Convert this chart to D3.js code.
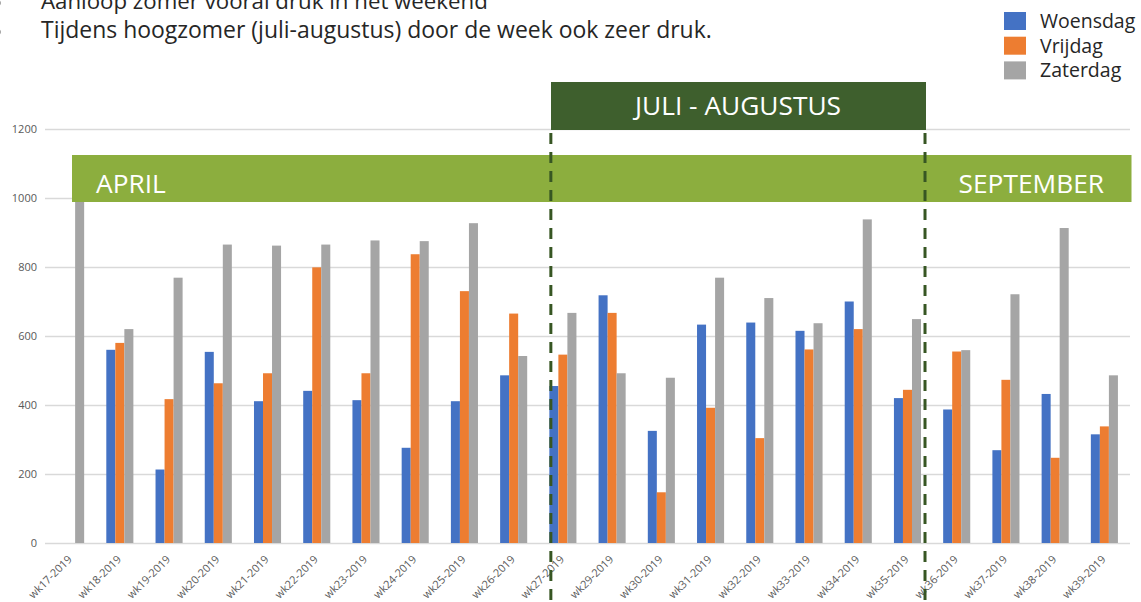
<!DOCTYPE html>
<html>
<head>
<meta charset="utf-8">
<script src="https://cdn.jsdelivr.net/npm/d3@7"></script>
<style>
  html, body { margin: 0; padding: 0; background: #ffffff; overflow: hidden; }
  svg { display: block; font-family: "Open Sans", "Noto Sans", sans-serif; }
</style>
</head>
<body>
<svg id="chart" width="1141" height="602"></svg>
<script>
// Weekly visitor counts per weekday, 2019 season (week 28 missing in source)
const weeks = ["wk17-2019","wk18-2019","wk19-2019","wk20-2019","wk21-2019","wk22-2019",
  "wk23-2019","wk24-2019","wk25-2019","wk26-2019","wk27-2019","wk29-2019","wk30-2019",
  "wk31-2019","wk32-2019","wk33-2019","wk34-2019","wk35-2019","wk36-2019","wk37-2019",
  "wk38-2019","wk39-2019"];
const seriesNames = ["Woensdag", "Vrijdag", "Zaterdag"];
const woensdag = [0, 560, 213, 554, 411, 441, 414, 276, 411, 486, 455, 718, 325, 633, 639, 615, 700, 420, 387, 269, 432, 315];
const vrijdag  = [0, 580, 417, 463, 492, 799, 492, 837, 730, 665, 546, 667, 147, 392, 304, 561, 620, 444, 555, 473, 247, 338];
const zaterdag = [1030, 620, 769, 865, 862, 865, 877, 875, 927, 542, 667, 492, 479, 769, 710, 637, 938, 649, 559, 721, 913, 486];
const yTicks = [0, 200, 400, 600, 800, 1000, 1200];
const bullets = ["Aanloop zomer vooral druk in het weekend",
  "Tijdens hoogzomer (juli-augustus) door de week ook zeer druk."];
const periods = ["APRIL", "JULI - AUGUSTUS", "SEPTEMBER"];

const colors = { Woensdag: "#4472C4", Vrijdag: "#ED7D31", Zaterdag: "#A5A5A5" };
const values = { Woensdag: woensdag, Vrijdag: vrijdag, Zaterdag: zaterdag };

const svg = d3.select("#chart");

const x = d3.scaleBand().domain(weeks).range([46, 1129]).paddingInner(0.45).paddingOuter(0.225);
const xs = d3.scaleBand().domain(seriesNames).range([0, x.bandwidth()]);
const y = d3.scaleLinear().domain([0, 1200]).range([543, 129]);

// gridlines
svg.append("g").selectAll("line").data(yTicks).join("line")
  .attr("x1", 45).attr("x2", 1130)
  .attr("y1", d => Math.round(y(d)) + 0.5).attr("y2", d => Math.round(y(d)) + 0.5)
  .attr("stroke", "#d9d9d9").attr("stroke-width", 1.3);

// y axis labels
const yAxis = svg.append("g").attr("transform", "translate(37,0)")
  .call(d3.axisLeft(y).tickValues(yTicks).tickFormat(d3.format("d")).tickSize(0).tickPadding(0));
yAxis.select(".domain").remove();
yAxis.selectAll("text").attr("fill", "#595959").attr("font-size", 11)
  .attr("font-family", "'Open Sans', sans-serif");

// bars
const groups = svg.append("g").selectAll("g").data(weeks).join("g")
  .attr("transform", d => `translate(${x(d)},0)`);
groups.selectAll("rect")
  .data((w, i) => seriesNames.map(s => ({ s, v: values[s][i] })))
  .join("rect")
  .attr("x", d => xs(d.s))
  .attr("width", xs.bandwidth())
  .attr("y", d => y(d.v))
  .attr("height", d => y(0) - y(d.v))
  .attr("fill", d => colors[d.s]);

// x axis labels (rotated)
const xAxis = svg.append("g").attr("transform", "translate(0,543)")
  .call(d3.axisBottom(x).tickSize(0).tickPadding(0));
xAxis.select(".domain").remove();
xAxis.selectAll("text")
  .attr("fill", "#595959").attr("font-size", 11)
  .attr("font-family", "'Open Sans', sans-serif")
  .attr("text-anchor", "end")
  .attr("dy", 0)
  .attr("transform", "translate(2,17) rotate(-45)");

// period banners
const lightGreen = "#8CAE3E", darkGreen = "#3E5F2D";
svg.append("rect").attr("x", 72).attr("y", 155).attr("width", 1059.5).attr("height", 47)
  .attr("fill", lightGreen);
svg.append("rect").attr("x", 551).attr("y", 82).attr("width", 375).attr("height", 48)
  .attr("fill", darkGreen);
const bannerText = svg.append("g").attr("fill", "#ffffff").attr("font-size", 26.3)
  .attr("font-family", "'Open Sans', sans-serif");
bannerText.append("text").attr("x", 96).attr("y", 193).text(periods[0]);
bannerText.append("text").attr("x", 738).attr("y", 115).attr("text-anchor", "middle").text(periods[1]);
bannerText.append("text").attr("x", 1104).attr("y", 193).attr("text-anchor", "end").text(periods[2]);

// dashed separators around the high-summer weeks
const sepX = [x("wk27-2019") + 1.5, x("wk35-2019") + x.bandwidth() + 4];
svg.append("g").selectAll("line").data(sepX).join("line")
  .attr("x1", d => d).attr("x2", d => d)
  .attr("y1", 133).attr("y2", 602)
  .attr("stroke", "#375623").attr("stroke-width", 3)
  .attr("stroke-dasharray", "11,8");

// bullet text at the top
const bl = svg.append("g").attr("fill", "#262626").attr("font-family", "'Open Sans', sans-serif");
const lineY = [9, 38];
const lineW = [447, 671];
bullets.forEach((t, i) => {
  const tx = bl.append("text").attr("x", 41).attr("y", lineY[i]).attr("font-size", 20).text(t);
  const w = tx.node().getComputedTextLength();
  tx.attr("font-size", 20 * lineW[i] / w);
  bl.append("circle").attr("cx", -2.2).attr("cy", lineY[i] - 6).attr("r", 3).attr("fill", "#8a8a8a");
});

// legend
const legend = svg.append("g").attr("transform", "translate(1004,12)");
const li = legend.selectAll("g").data(seriesNames).join("g")
  .attr("transform", (d, i) => `translate(0,${i * 24.7})`);
li.append("rect").attr("width", 22).attr("height", 18).attr("fill", d => colors[d]);
li.append("text").attr("x", 36).attr("y", 16).attr("font-size", 19.5)
  .attr("fill", "#262626").attr("font-family", "'Open Sans', sans-serif").text(d => d);
</script>
</body>
</html>
